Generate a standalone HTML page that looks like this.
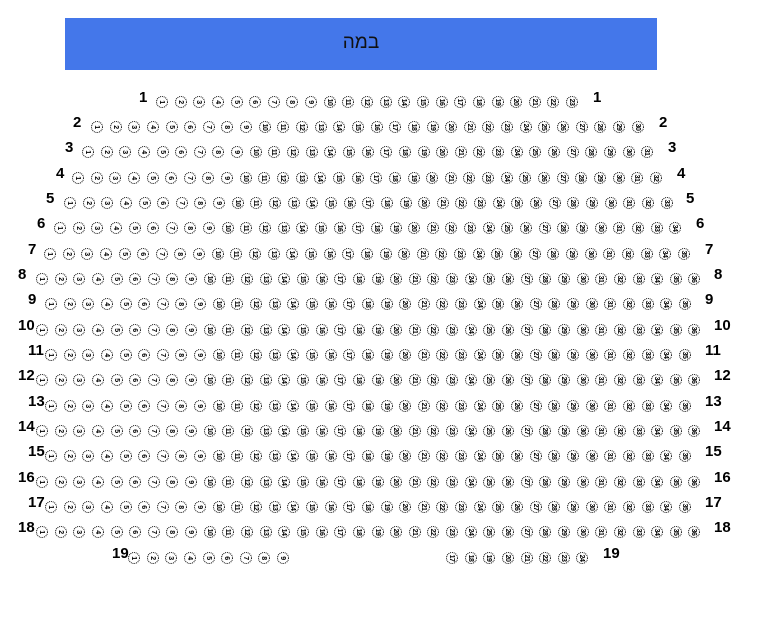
<!DOCTYPE html>
<html><head><meta charset="utf-8"><style>
html,body{margin:0;padding:0;background:#fff;width:760px;height:620px;overflow:hidden;position:relative;font-family:"Liberation Sans",sans-serif}
.stage{position:absolute;left:65px;top:18px;width:592px;height:52px;background:#4477ea;color:#111;font:19px "Liberation Sans","DejaVu Sans",sans-serif;text-align:center;line-height:50px}
.r{position:absolute;display:flex;gap:6.65px}
.r b{box-sizing:border-box;width:12px;height:12px;border:1px dotted #000;border-radius:50%;font:bold 7px "Liberation Sans",sans-serif;color:#000;display:flex;align-items:center;justify-content:center;transform:rotate(90deg);flex:none;letter-spacing:-0.5px}
.l{position:absolute;font:bold 15px "Liberation Sans",sans-serif;color:#000;line-height:17px}
</style></head><body>
<div class="stage">במה</div>

<div class="l" style="left:139px;top:89px">1</div><div class="l" style="left:593px;top:89px">1</div>
<div class="r" style="left:156px;top:96px"><b>1</b><b>2</b><b>3</b><b>4</b><b>5</b><b>6</b><b>7</b><b>8</b><b>9</b><b>10</b><b>11</b><b>12</b><b>13</b><b>14</b><b>15</b><b>16</b><b>17</b><b>18</b><b>19</b><b>20</b><b>21</b><b>22</b><b>23</b></div>

<div class="l" style="left:73px;top:114px">2</div><div class="l" style="left:659px;top:114px">2</div>
<div class="r" style="left:91px;top:121px"><b>1</b><b>2</b><b>3</b><b>4</b><b>5</b><b>6</b><b>7</b><b>8</b><b>9</b><b>10</b><b>11</b><b>12</b><b>13</b><b>14</b><b>15</b><b>16</b><b>17</b><b>18</b><b>19</b><b>20</b><b>21</b><b>22</b><b>23</b><b>24</b><b>25</b><b>26</b><b>27</b><b>28</b><b>29</b><b>30</b></div>

<div class="l" style="left:65px;top:139px">3</div><div class="l" style="left:668px;top:139px">3</div>
<div class="r" style="left:82px;top:146px"><b>1</b><b>2</b><b>3</b><b>4</b><b>5</b><b>6</b><b>7</b><b>8</b><b>9</b><b>10</b><b>11</b><b>12</b><b>13</b><b>14</b><b>15</b><b>16</b><b>17</b><b>18</b><b>19</b><b>20</b><b>21</b><b>22</b><b>23</b><b>24</b><b>25</b><b>26</b><b>27</b><b>28</b><b>29</b><b>30</b><b>31</b></div>

<div class="l" style="left:56px;top:165px">4</div><div class="l" style="left:677px;top:165px">4</div>
<div class="r" style="left:72px;top:172px"><b>1</b><b>2</b><b>3</b><b>4</b><b>5</b><b>6</b><b>7</b><b>8</b><b>9</b><b>10</b><b>11</b><b>12</b><b>13</b><b>14</b><b>15</b><b>16</b><b>17</b><b>18</b><b>19</b><b>20</b><b>21</b><b>22</b><b>23</b><b>24</b><b>25</b><b>26</b><b>27</b><b>28</b><b>29</b><b>30</b><b>31</b><b>32</b></div>

<div class="l" style="left:46px;top:190px">5</div><div class="l" style="left:686px;top:190px">5</div>
<div class="r" style="left:64px;top:197px"><b>1</b><b>2</b><b>3</b><b>4</b><b>5</b><b>6</b><b>7</b><b>8</b><b>9</b><b>10</b><b>11</b><b>12</b><b>13</b><b>14</b><b>15</b><b>16</b><b>17</b><b>18</b><b>19</b><b>20</b><b>21</b><b>22</b><b>23</b><b>24</b><b>25</b><b>26</b><b>27</b><b>28</b><b>29</b><b>30</b><b>31</b><b>32</b><b>33</b></div>

<div class="l" style="left:37px;top:215px">6</div><div class="l" style="left:696px;top:215px">6</div>
<div class="r" style="left:54px;top:222px"><b>1</b><b>2</b><b>3</b><b>4</b><b>5</b><b>6</b><b>7</b><b>8</b><b>9</b><b>10</b><b>11</b><b>12</b><b>13</b><b>14</b><b>15</b><b>16</b><b>17</b><b>18</b><b>19</b><b>20</b><b>21</b><b>22</b><b>23</b><b>24</b><b>25</b><b>26</b><b>27</b><b>28</b><b>29</b><b>30</b><b>31</b><b>32</b><b>33</b><b>34</b></div>

<div class="l" style="left:28px;top:241px">7</div><div class="l" style="left:705px;top:241px">7</div>
<div class="r" style="left:44px;top:248px"><b>1</b><b>2</b><b>3</b><b>4</b><b>5</b><b>6</b><b>7</b><b>8</b><b>9</b><b>10</b><b>11</b><b>12</b><b>13</b><b>14</b><b>15</b><b>16</b><b>17</b><b>18</b><b>19</b><b>20</b><b>21</b><b>22</b><b>23</b><b>24</b><b>25</b><b>26</b><b>27</b><b>28</b><b>29</b><b>30</b><b>31</b><b>32</b><b>33</b><b>34</b><b>35</b></div>

<div class="l" style="left:18px;top:266px">8</div><div class="l" style="left:714px;top:266px">8</div>
<div class="r" style="left:36px;top:273px"><b>1</b><b>2</b><b>3</b><b>4</b><b>5</b><b>6</b><b>7</b><b>8</b><b>9</b><b>10</b><b>11</b><b>12</b><b>13</b><b>14</b><b>15</b><b>16</b><b>17</b><b>18</b><b>19</b><b>20</b><b>21</b><b>22</b><b>23</b><b>24</b><b>25</b><b>26</b><b>27</b><b>28</b><b>29</b><b>30</b><b>31</b><b>32</b><b>33</b><b>34</b><b>35</b><b>36</b></div>

<div class="l" style="left:28px;top:291px">9</div><div class="l" style="left:705px;top:291px">9</div>
<div class="r" style="left:45px;top:298px"><b>1</b><b>2</b><b>3</b><b>4</b><b>5</b><b>6</b><b>7</b><b>8</b><b>9</b><b>10</b><b>11</b><b>12</b><b>13</b><b>14</b><b>15</b><b>16</b><b>17</b><b>18</b><b>19</b><b>20</b><b>21</b><b>22</b><b>23</b><b>24</b><b>25</b><b>26</b><b>27</b><b>28</b><b>29</b><b>30</b><b>31</b><b>32</b><b>33</b><b>34</b><b>35</b></div>

<div class="l" style="left:18px;top:317px">10</div><div class="l" style="left:714px;top:317px">10</div>
<div class="r" style="left:36px;top:324px"><b>1</b><b>2</b><b>3</b><b>4</b><b>5</b><b>6</b><b>7</b><b>8</b><b>9</b><b>10</b><b>11</b><b>12</b><b>13</b><b>14</b><b>15</b><b>16</b><b>17</b><b>18</b><b>19</b><b>20</b><b>21</b><b>22</b><b>23</b><b>24</b><b>25</b><b>26</b><b>27</b><b>28</b><b>29</b><b>30</b><b>31</b><b>32</b><b>33</b><b>34</b><b>35</b><b>36</b></div>

<div class="l" style="left:28px;top:342px">11</div><div class="l" style="left:705px;top:342px">11</div>
<div class="r" style="left:45px;top:349px"><b>1</b><b>2</b><b>3</b><b>4</b><b>5</b><b>6</b><b>7</b><b>8</b><b>9</b><b>10</b><b>11</b><b>12</b><b>13</b><b>14</b><b>15</b><b>16</b><b>17</b><b>18</b><b>19</b><b>20</b><b>21</b><b>22</b><b>23</b><b>24</b><b>25</b><b>26</b><b>27</b><b>28</b><b>29</b><b>30</b><b>31</b><b>32</b><b>33</b><b>34</b><b>35</b></div>

<div class="l" style="left:18px;top:367px">12</div><div class="l" style="left:714px;top:367px">12</div>
<div class="r" style="left:36px;top:374px"><b>1</b><b>2</b><b>3</b><b>4</b><b>5</b><b>6</b><b>7</b><b>8</b><b>9</b><b>10</b><b>11</b><b>12</b><b>13</b><b>14</b><b>15</b><b>16</b><b>17</b><b>18</b><b>19</b><b>20</b><b>21</b><b>22</b><b>23</b><b>24</b><b>25</b><b>26</b><b>27</b><b>28</b><b>29</b><b>30</b><b>31</b><b>32</b><b>33</b><b>34</b><b>35</b><b>36</b></div>

<div class="l" style="left:28px;top:393px">13</div><div class="l" style="left:705px;top:393px">13</div>
<div class="r" style="left:45px;top:400px"><b>1</b><b>2</b><b>3</b><b>4</b><b>5</b><b>6</b><b>7</b><b>8</b><b>9</b><b>10</b><b>11</b><b>12</b><b>13</b><b>14</b><b>15</b><b>16</b><b>17</b><b>18</b><b>19</b><b>20</b><b>21</b><b>22</b><b>23</b><b>24</b><b>25</b><b>26</b><b>27</b><b>28</b><b>29</b><b>30</b><b>31</b><b>32</b><b>33</b><b>34</b><b>35</b></div>

<div class="l" style="left:18px;top:418px">14</div><div class="l" style="left:714px;top:418px">14</div>
<div class="r" style="left:36px;top:425px"><b>1</b><b>2</b><b>3</b><b>4</b><b>5</b><b>6</b><b>7</b><b>8</b><b>9</b><b>10</b><b>11</b><b>12</b><b>13</b><b>14</b><b>15</b><b>16</b><b>17</b><b>18</b><b>19</b><b>20</b><b>21</b><b>22</b><b>23</b><b>24</b><b>25</b><b>26</b><b>27</b><b>28</b><b>29</b><b>30</b><b>31</b><b>32</b><b>33</b><b>34</b><b>35</b><b>36</b></div>

<div class="l" style="left:28px;top:443px">15</div><div class="l" style="left:705px;top:443px">15</div>
<div class="r" style="left:45px;top:450px"><b>1</b><b>2</b><b>3</b><b>4</b><b>5</b><b>6</b><b>7</b><b>8</b><b>9</b><b>10</b><b>11</b><b>12</b><b>13</b><b>14</b><b>15</b><b>16</b><b>17</b><b>18</b><b>19</b><b>20</b><b>21</b><b>22</b><b>23</b><b>24</b><b>25</b><b>26</b><b>27</b><b>28</b><b>29</b><b>30</b><b>31</b><b>32</b><b>33</b><b>34</b><b>35</b></div>

<div class="l" style="left:18px;top:469px">16</div><div class="l" style="left:714px;top:469px">16</div>
<div class="r" style="left:36px;top:476px"><b>1</b><b>2</b><b>3</b><b>4</b><b>5</b><b>6</b><b>7</b><b>8</b><b>9</b><b>10</b><b>11</b><b>12</b><b>13</b><b>14</b><b>15</b><b>16</b><b>17</b><b>18</b><b>19</b><b>20</b><b>21</b><b>22</b><b>23</b><b>24</b><b>25</b><b>26</b><b>27</b><b>28</b><b>29</b><b>30</b><b>31</b><b>32</b><b>33</b><b>34</b><b>35</b><b>36</b></div>

<div class="l" style="left:28px;top:494px">17</div><div class="l" style="left:705px;top:494px">17</div>
<div class="r" style="left:45px;top:501px"><b>1</b><b>2</b><b>3</b><b>4</b><b>5</b><b>6</b><b>7</b><b>8</b><b>9</b><b>10</b><b>11</b><b>12</b><b>13</b><b>14</b><b>15</b><b>16</b><b>17</b><b>18</b><b>19</b><b>20</b><b>21</b><b>22</b><b>23</b><b>24</b><b>25</b><b>26</b><b>27</b><b>28</b><b>29</b><b>30</b><b>31</b><b>32</b><b>33</b><b>34</b><b>35</b></div>

<div class="l" style="left:18px;top:519px">18</div><div class="l" style="left:714px;top:519px">18</div>
<div class="r" style="left:36px;top:526px"><b>1</b><b>2</b><b>3</b><b>4</b><b>5</b><b>6</b><b>7</b><b>8</b><b>9</b><b>10</b><b>11</b><b>12</b><b>13</b><b>14</b><b>15</b><b>16</b><b>17</b><b>18</b><b>19</b><b>20</b><b>21</b><b>22</b><b>23</b><b>24</b><b>25</b><b>26</b><b>27</b><b>28</b><b>29</b><b>30</b><b>31</b><b>32</b><b>33</b><b>34</b><b>35</b><b>36</b></div>

<div class="l" style="left:112px;top:545px">19</div><div class="l" style="left:603px;top:545px">19</div>
<div class="r" style="left:128px;top:552px"><b>1</b><b>2</b><b>3</b><b>4</b><b>5</b><b>6</b><b>7</b><b>8</b><b>9</b></div>
<div class="r" style="left:446px;top:552px"><b>17</b><b>18</b><b>19</b><b>20</b><b>21</b><b>22</b><b>23</b><b>24</b></div>
</body></html>
